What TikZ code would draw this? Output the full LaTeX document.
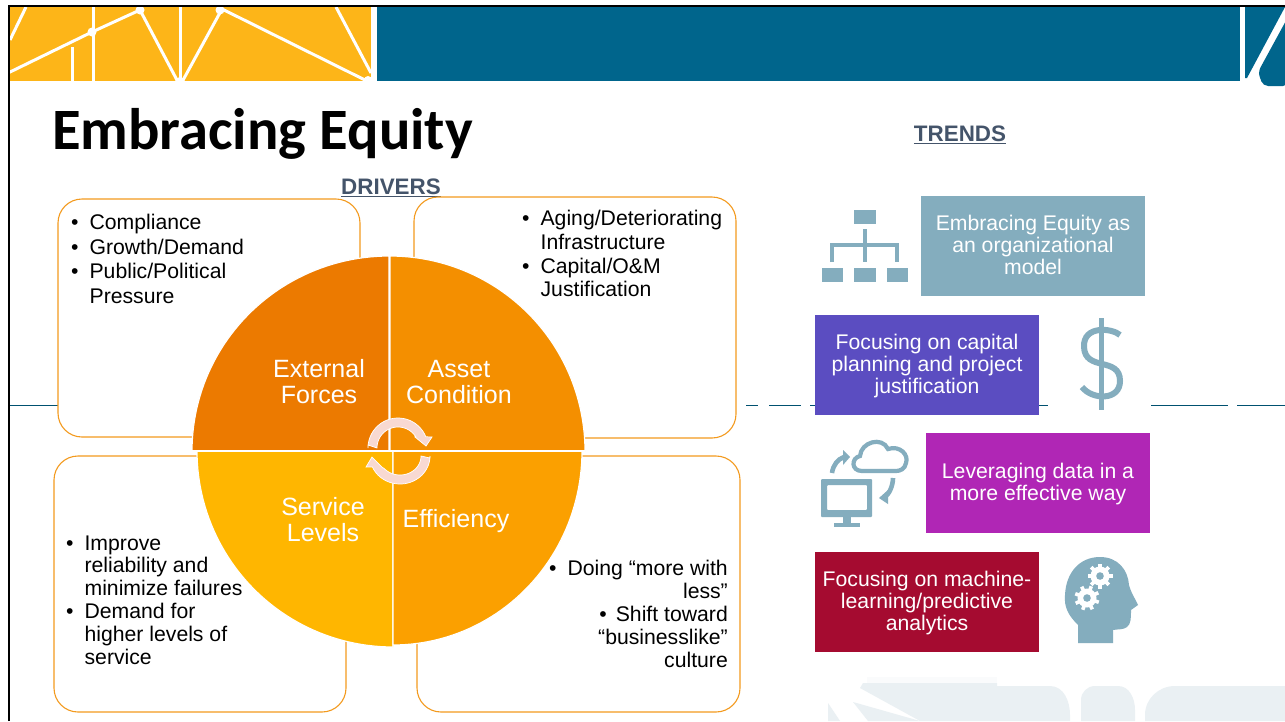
\documentclass[tikz,border=0pt]{standalone}
\usepackage{fontspec}
\setmainfont{Liberation Sans}
\newfontfamily\titlefont{Carlito}
\usepackage{array}
\definecolor{teal1}{HTML}{00658C}
\definecolor{gold}{HTML}{FDB518}
\definecolor{icon}{HTML}{84ADBE}
\definecolor{oline}{HTML}{F39A1E}
\definecolor{pale}{HTML}{EAF0F3}
\definecolor{slatec}{HTML}{44546A}
\definecolor{pinkc}{HTML}{F8D9D2}
\tikzset{
  cutline/.style={white,line width=3pt},
  rule/.style={teal1!80!black,line width=1pt},
  drivebox/.style={draw=oline,fill=white,line width=1.1pt,rounded corners=24pt},
  quad/.style={draw=white,line width=1.2pt},
  qlabel/.style={white,align=center,font=\fontsize{25}{26}\selectfont,inner sep=0pt},
  trendtext/.style={inner sep=0pt,text=white,align=center,font=\fontsize{21.2}{22}\selectfont},
  bullets/.style={black,inner sep=0pt,font=\fontsize{21.2}{#1}\selectfont},
  head/.style={slatec,inner sep=0pt,font=\bfseries\fontsize{22.4}{24}\selectfont},
  iconline/.style={draw=icon,line width=4.2pt},
  turn/.style={fill=pinkc,draw=white,line width=.7pt},
}
\newcommand{\bulletlist}[1]{\begin{tabular}{@{}l@{\hskip 11pt}l@{}}#1\end{tabular}}
\begin{document}
\begin{tikzpicture}[x=1pt,y=-1pt]
\useasboundingbox (0,0) rectangle (1285,721);
\fill[white] (0,0) rectangle (1285,721);
% watermark
\fill[pale!25!white] (867,677) rectangle (997,686);
\fill[pale] (863,683) -- (997,683) -- (997,686) -- (1050,686) to[out=0,in=90] (1070,715) -- (1070,721) -- (920,721) -- (860,688) -- cycle;
\fill[pale] (1081,721) -- (1081,700) to[out=90,in=180] (1095,686) -- (1118,686) to[out=0,in=90] (1135,710) -- (1135,721) -- cycle;
\fill[pale] (1145,721) -- (1145,715) to[out=90,in=180] (1175,686) -- (1285,686) -- (1285,721) -- cycle;
\fill[pale] (853,702) -- (920,721) -- (868,721) -- cycle;
\fill[pale] (828,703) -- (840,721) -- (828,721) -- cycle;
% header left
\fill[gold] (10,7) rectangle (371,81);
\draw[cutline] (8,73) -- (92,32) -- (140,10) -- (178,82);
\draw[cutline] (10,40) -- (26,7);
\draw[cutline] (93,7) -- (93,82);
\draw[cutline] (72,47) -- (72,82);
\draw[cutline] (180,7) -- (180,82);
\draw[cutline] (222,9) -- (182,82);
\draw[cutline] (222,9) -- (367,81);
\draw[cutline] (336,7) -- (371,73);
\fill[white] (140,10) circle (4.5);
\fill[white] (220,10) circle (4.5);
\fill[white] (92,32) circle (4.5);
\fill[white] (180,82) circle (5);
\fill[white] (368,80) circle (4);
% header right
\fill[teal1] (377,7) rectangle (1240,81);
\fill[teal1] (1245,7) -- (1285,7) -- (1247,78) -- (1245,78) -- cycle;
\fill[teal1,rounded corners=5pt] (1288,17) -- (1258,72) -- (1263,86) -- (1288,86) -- cycle;
% frame
\draw[black,line width=2.4pt] (9,721) -- (9,6) -- (1285,6);
% rule
\foreach \a/\b [count=\i] in {10/60,746/758,769/801,810/816,1039/1048,1151/1228,1237/1285}
  \draw[rule] (\a,405.5) -- (\b,405.5);
% title
\node[anchor=base west,inner sep=0pt,font=\titlefont\bfseries\fontsize{58.6}{60}\selectfont] (title) at (52,149) {Embracing Equity};
\node[head] (drivers) at (391,188) {\underline{DRIVERS}};
\node[head] (trends) at (960,135) {\underline{TRENDS}};
% driver boxes
\draw[drivebox] (58,199) rectangle (360,437);
\draw[drivebox] (414,197) rectangle (736,438);
\draw[drivebox] (54,456) rectangle (346,712);
\draw[drivebox] (417,456) rectangle (740,712);
% bullets
\node[bullets=24.6,anchor=north west] (tl) at (71,212) {\bulletlist{•&Compliance\\•&Growth/Demand\\•&Public/Political\\&Pressure}};
\node[bullets=23.7,anchor=north west] (tr) at (522,209) {\bulletlist{•&Aging/Deteriorating\\&Infrastructure\\•&Capital/O\&M\\&Justification}};
\node[bullets=22.8,anchor=north west] (bl) at (66,534) {\bulletlist{•&Improve\\&reliability and\\&minimize failures\\•&Demand for\\&higher levels of\\&service}};
\node[bullets=23,anchor=north east,align=right] (br) at (728,560) {•\hskip 11pt Doing “more with\\less”\\•\hskip 9pt Shift toward\\“businesslike”\\culture};
% wheel
\fill[quad,fill={rgb,255:red,236;green,122;blue,0}] (389,451) -- plot[domain=180:90,samples=50] ({389+197*cos(\x)},{451-195*sin(\x)}) -- cycle;
\fill[quad,fill={rgb,255:red,244;green,143;blue,0}] (390,451) -- plot[domain=90:0,samples=50] ({390+195*cos(\x)},{451-195*sin(\x)}) -- cycle;
\draw[quad,fill={rgb,255:red,255;green,182;blue,0}] (393,451) -- plot[domain=180:270,samples=50] ({393+196*cos(\x)},{451-196*sin(\x)}) -- cycle;
\draw[quad,fill={rgb,255:red,251;green,160;blue,0}] (393,451) -- plot[domain=270:360,samples=50] ({393+189*cos(\x)},{451-194*sin(\x)}) -- cycle;
\draw[quad] (389.5,256) -- (389.5,451);
\draw[quad] (192,451) -- (585,451);
\node[qlabel] (ext) at (319,382) {External\\Forces};
\node[qlabel] (asset) at (459,382) {Asset\\Condition};
\node[qlabel] (svc) at (323,520) {Service\\Levels};
\node[qlabel] (eff) at (456,521) {Efficiency};
% turning arrows
\draw[turn] (368,445) -- plot[domain=180:22,samples=40] ({398+30*cos(\x)},{448-30*sin(\x)}) -- (432,437) -- (426,446) -- (415,437) -- plot[domain=32:180,samples=40] ({398+21*cos(\x)},{448-21*sin(\x)}) -- cycle;
\draw[turn] (430,458) -- plot[domain=360:203,samples=40] ({400+30*cos(\x)},{456-28*sin(\x)}) -- (366,467) -- (372,457) -- (383,468) -- plot[domain=219:360,samples=40] ({400+21*cos(\x)},{456-19*sin(\x)}) -- cycle;
% trends
\fill[icon] (921,196) rectangle (1144.5,295.5);
\node[trendtext] (t1) at (1033,244.5) {Embracing Equity as\\an organizational\\model};
\fill[fill={rgb,255:red,91;green,77;blue,193}] (815,315) rectangle (1039,414.5);
\node[trendtext] (t2) at (927,366) {Focusing on capital\\planning and project\\justification};
\fill[fill={rgb,255:red,176;green,38;blue,181}] (926,433) rectangle (1150,532.5);
\node[trendtext] (t3) at (1038,484) {Leveraging data in a\\more effective way};
\fill[fill={rgb,255:red,165;green,11;blue,48}] (815,552) rectangle (1039,651.5);
\node[trendtext] (t4) at (927,603) {Focusing on machine-\\learning/predictive\\analytics};
% org icon
\fill[icon] (854,210) rectangle (876,224);
\fill[icon] (822,268) rectangle (843,282);
\fill[icon] (854,268) rectangle (876,282);
\fill[icon] (887,268) rectangle (908,282);
\draw[icon,line width=4pt] (865,229) -- (865,262);
\draw[icon,line width=4pt] (832,262) -- (832,245) -- (897,245) -- (897,262);
% dollar icon
\draw[icon,line width=5pt] (1101,318) -- (1101,410);
\draw[icon,line width=6pt] (1120,335) .. controls (1112,328) and (1083,325) .. (1084,347) .. controls (1085,372) and (1120,356) .. (1120,381) .. controls (1120,401) and (1092,400) .. (1082,387);
% monitor icon
\fill[icon,even odd rule,rounded corners=1pt] (821,479) rectangle (872,517) (827,485) rectangle (867,510);
\fill[icon] (843,516) rectangle (851,524);
\fill[icon] (834,523) rectangle (860,527);
\draw[iconline] (862,471) .. controls (851,471) and (851,458) .. (860,456) .. controls (861,442) and (882,436) .. (888,449) .. controls (900,445) and (909,455) .. (906,463) .. controls (905,469) and (900,471) .. (896,471) -- cycle;
\draw[iconline,line width=4.6pt] (832,473) .. controls (833,465) and (838,459) .. (844,457);
\fill[icon] (843,450) -- (850,457) -- (843,465) -- cycle;
\draw[iconline,line width=4.6pt] (893,478) .. controls (893,486) and (889,494) .. (885,497);
\fill[icon] (879,498) -- (888,490) -- (888,504) -- cycle;
% head icon
\fill[icon] (1078,643) -- (1078,625) .. controls (1068,615) and (1064,607) .. (1065,595) .. controls (1066,572) and (1080,557) .. (1100,557) .. controls (1118,557) and (1128,570) .. (1129,585) .. controls (1131,593) and (1136,600) .. (1138,605) -- (1131,610) .. controls (1131,618) and (1131,624) .. (1127,627) .. controls (1123,630) and (1118,629) .. (1113,630) -- (1113,643) -- cycle;
\foreach \cx/\cy/\rot in {1100/576/0,1087/598/20}{
  \fill[white] (\cx,\cy) circle (9.5);
  \foreach \k in {0,45,...,315}
    \draw[white,line width=3.6pt] ({\cx+8*cos(\k+\rot)},{\cy+8*sin(\k+\rot)}) -- ({\cx+12.5*cos(\k+\rot)},{\cy+12.5*sin(\k+\rot)});
  \fill[icon] (\cx,\cy) circle (3.8);
}
\end{tikzpicture}
\end{document}
